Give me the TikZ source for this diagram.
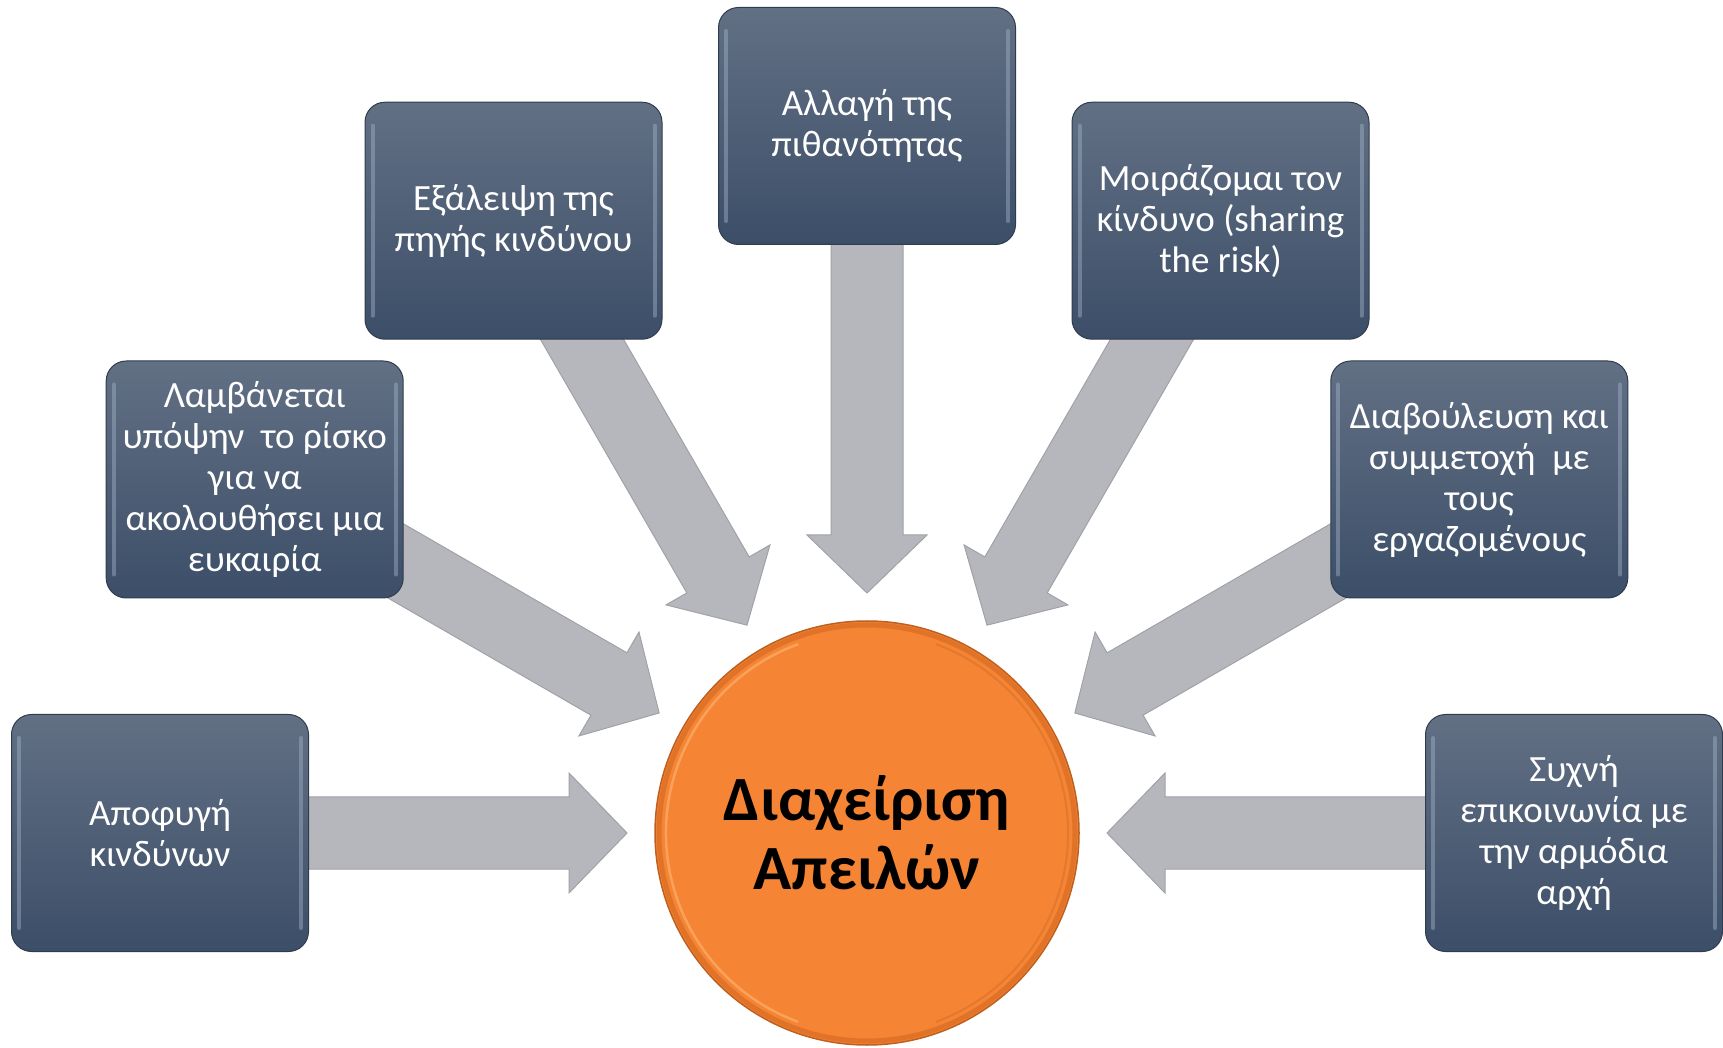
\documentclass[tikz,border=0pt]{standalone}
\usepackage{fontspec}
\setmainfont{Carlito}
\definecolor{boxtop}{RGB}{98,112,132}
\definecolor{boxbot}{RGB}{60,78,104}
\definecolor{boxedge}{RGB}{48,60,78}
\definecolor{boxhl}{RGB}{160,178,200}
\definecolor{arrowgray}{RGB}{181,183,188}
\definecolor{arrowedge}{RGB}{160,162,168}
\definecolor{orng}{RGB}{245,132,52}
\definecolor{orngedge}{RGB}{190,95,30}
\definecolor{orngrim}{RGB}{225,115,40}
\definecolor{orngl}{RGB}{252,175,105}
\begin{document}
\begin{tikzpicture}[x=1pt,y=1pt,
  box/.style={rectangle, rounded corners=20pt, minimum width=297pt, minimum height=237pt,
    inner sep=0pt, top color=boxtop, bottom color=boxbot, draw=boxedge, line width=1pt,
    text=white, align=center, font=\fontsize{37}{41}\selectfont},
  barrow/.style={fill=arrowgray, draw=arrowedge, line width=1pt, line join=miter},
  hl/.style={line width=4pt, draw=boxhl, line cap=round, opacity=0.45},
  hub/.style={circle, minimum size=424pt, inner sep=0pt, fill=orng, draw=orngedge,
    line width=1.5pt}]
\useasboundingbox (0,0) rectangle (1723,1047);
\coordinate (C) at (867,214);
% block arrows pointing at the hub
\foreach \a/\n in {180/1,150/2,120/3,90/4,60/5,30/6,0/7}{
  \begin{scope}[shift={(C)},rotate=\a]
    \coordinate (t\n) at (240,0);
    \draw[barrow] (t\n) -- (298,60) -- (298,36) -- (640,36) -- (640,-36)
      -- (298,-36) -- (298,-60) -- cycle;
  \end{scope}
}
% boxes
\node[box] (b1) at ([shift={(180:707)}]C) {Αποφυγή\\κινδύνων};
\node[box] (b2) at ([shift={(150:707)}]C) {Λαμβάνεται\\υπόψην\ \ το ρίσκο\\για να\\ακολουθήσει μια\\ευκαιρία};
\node[box] (b3) at ([shift={(120:707)}]C) {Εξάλειψη της\\πηγής κινδύνου};
\node[box] (b4) at ([shift={(90:707)}]C) {Αλλαγή της\\πιθανότητας};
\node[box] (b5) at ([shift={(60:707)}]C) {Μοιράζομαι τον\\κίνδυνο (sharing\\the risk)};
\node[box] (b6) at ([shift={(30:707)}]C) {Διαβούλευση και\\συμμετοχή\ \ με\\τους\\εργαζομένους};
\node[box] (b7) at ([shift={(0:707)}]C) {Συχνή\\επικοινωνία με\\την αρμόδια\\αρχή};
\foreach \n in {b1,b2,b3,b4,b5,b6,b7}{
  \draw[hl] ([xshift=8pt,yshift=-24pt]\n.north west) -- ([xshift=8pt,yshift=24pt]\n.south west);
  \draw[hl] ([xshift=-8pt,yshift=-24pt]\n.north east) -- ([xshift=-8pt,yshift=24pt]\n.south east);
}
% hub
\node[hub] (hub) at (C) {};
\draw[orngrim, line width=5pt] (C) circle (208);
\draw[orngl, line width=2.5pt, opacity=0.7] ([shift={(110:201)}]C) arc (110:250:201);
\draw[orng!85!black, line width=2pt, opacity=0.5] ([shift={(-70:201)}]C) arc (-70:70:201);
\node[align=center, text=black, font=\bfseries\fontsize{63}{69}\selectfont] (hubtext) at (C) {Διαχείριση\\Απειλών};
\end{tikzpicture}
\end{document}
